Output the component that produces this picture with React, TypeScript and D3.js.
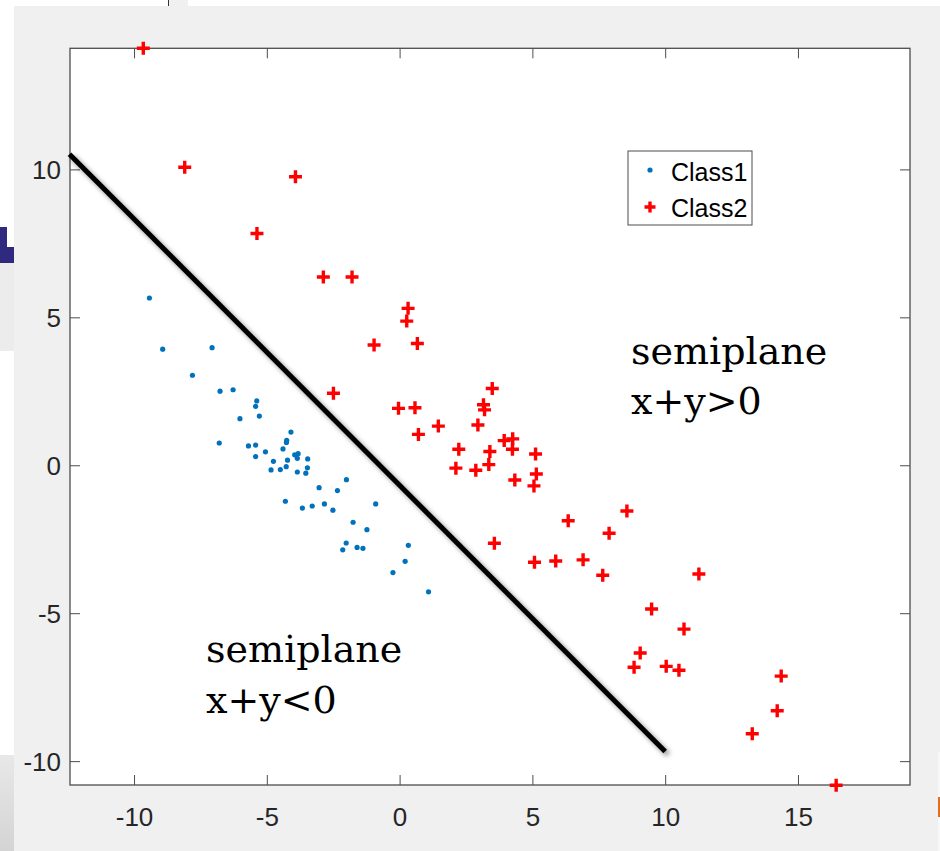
import React from 'react'
import * as d3 from 'd3'

// class 1 samples (blue dots)
const class1X = [-9.44, -8.94, -7.08, -7.82, -6.78, -6.29, -5.40, -5.44, -6.03, -5.30, -6.81, -4.11, -4.27, -4.28, -5.71, -5.44, -4.41, -5.07, -5.44, -3.97, -3.84, -3.87, -3.48, -4.24, -4.77, -4.86, -4.51, -4.29, -3.87, -3.49, -3.55, -2.02, -3.05, -2.36, -4.32, -3.68, -3.31, -2.85, -2.53, -0.92, -1.77, -1.25, -2.03, -2.16, -1.62, -1.40, 0.31, 0.19, -0.27, 1.07]
const class1Y = [5.67, 3.94, 3.99, 3.06, 2.52, 2.57, 2.19, 2.01, 1.59, 1.68, 0.77, 1.14, 0.86, 0.79, 0.67, 0.70, 0.57, 0.47, 0.31, 0.37, 0.41, 0.25, 0.23, 0.19, 0.15, -0.14, -0.13, -0.03, -0.21, -0.07, -0.25, -0.47, -0.74, -0.84, -1.20, -1.43, -1.36, -1.29, -1.50, -1.29, -1.91, -2.16, -2.61, -2.84, -2.76, -2.79, -2.69, -3.23, -3.61, -4.26]

// class 2 samples (red plus)
const class2X = [-9.67, -8.11, -3.94, -5.39, -2.89, -1.81, 0.30, 0.25, -0.98, 0.65, -2.51, 3.47, -0.06, 0.56, 3.14, 3.18, 1.44, 0.69, 2.93, 3.92, 4.24, 4.23, 5.10, 2.21, 3.38, 2.10, 2.85, 3.34, 5.13, 5.04, 4.32, 8.54, 6.33, 7.87, 3.55, 5.06, 5.86, 6.89, 7.63, 11.25, 9.47, 10.69, 9.04, 8.81, 10.02, 10.50, 14.35, 14.20, 13.26, 16.42]
const class2Y = [14.11, 10.09, 9.77, 7.85, 6.38, 6.38, 5.32, 4.89, 4.08, 4.13, 2.45, 2.61, 1.94, 1.96, 2.06, 1.89, 1.34, 1.06, 1.38, 0.85, 0.91, 0.56, 0.40, 0.56, 0.48, -0.08, -0.15, 0.04, -0.28, -0.68, -0.48, -1.53, -1.86, -2.28, -2.62, -3.26, -3.22, -3.18, -3.70, -3.66, -4.84, -5.52, -6.33, -6.81, -6.78, -6.91, -7.11, -8.28, -9.06, -10.80]

// separating line
const lineX = [-12.45, 9.98]
const lineY = [10.53, -9.66]

const xTicks = [-10, -5, 0, 5, 10, 15]
const yTicks = [-10, -5, 0, 5, 10]
const legendLabels = ['Class1', 'Class2']

const BLUE = '#0072bd'
const RED = '#ff0000'

function Plus({cx, cy, s = 6.5}: {cx: number, cy: number, s?: number}) {
    return (
        <path d={`M${cx - s},${cy}H${cx + s}M${cx},${cy - s}V${cy + s}`}
            stroke={RED} strokeWidth={3.4} fill='none' />
    )
}

export default function App() {
    const left = 70, right = 910, top = 48.3, bottom = 785
    const x = d3.scaleLinear().domain([-12.43, 19.2]).range([left, right])
    const y = d3.scaleLinear().domain([-10.79, 14.11]).range([bottom, top])
    const line = d3.line<number>().x(i => x(lineX[i])).y(i => y(lineY[i]))
    const tick = 10
    const axisColor = '#4d4d4d'

    return (
        <svg width={940} height={851} style={{position: 'absolute', left: 0, top: 0}}
            fontFamily='"Liberation Sans", Arial, sans-serif'>
            <defs>
                <filter id='shadow' x='-10%' y='-10%' width='120%' height='120%'>
                    <feGaussianBlur stdDeviation='2.5' />
                </filter>
                <linearGradient id='leftgrad' x1='0' x2='0' y1='0' y2='1'>
                    <stop offset='0' stopColor='#e8e8e8' />
                    <stop offset='1' stopColor='#d4d4d4' />
                </linearGradient>
            </defs>
            <rect width={940} height={851} fill='#ffffff' />
            {/* screenshot background bits */}
            <rect x={14} y={6} width={926} height={845} fill='#f0f0f0' />
            <rect x={168} y={0} width={20} height={6} fill='#f0f0f0' />
            <line x1={168.5} y1={0} x2={168.5} y2={6} stroke='#333' />
            <rect x={0} y={227} width={7} height={36} fill='#2f2a80' />
            <rect x={7} y={247} width={7} height={16} fill='#2f2a80' />
            <rect x={0} y={263} width={14} height={88} fill='#ececec' />
            <rect x={0} y={755} width={14} height={96} fill='url(#leftgrad)' />
            <rect x={938} y={752} width={2} height={99} fill='#f8f8f8' />
            <rect x={938} y={797} width={2} height={20} fill='#e07020' />

            {/* plot area */}
            <rect x={left} y={top} width={right - left} height={bottom - top} fill='#ffffff' />
            <rect x={left} y={top} width={right - left} height={bottom - top}
                fill='none' stroke={axisColor} strokeWidth={1.3} />
            {xTicks.map(t => (
                <g key={'xt' + t}>
                    <line x1={x(t)} x2={x(t)} y1={bottom} y2={bottom - tick} stroke={axisColor} />
                    <line x1={x(t)} x2={x(t)} y1={top} y2={top + tick} stroke={axisColor} />
                    <text x={x(t)} y={826} fontSize={26} textAnchor='middle' fill='#262626'>{t}</text>
                </g>
            ))}
            {yTicks.map(t => (
                <g key={'yt' + t}>
                    <line x1={left} x2={left + tick} y1={y(t)} y2={y(t)} stroke={axisColor} />
                    <line x1={right} x2={right - tick} y1={y(t)} y2={y(t)} stroke={axisColor} />
                    <text x={61} y={y(t) + 9} fontSize={26} textAnchor='end' fill='#262626'>{t}</text>
                </g>
            ))}

            {/* data */}
            {class1X.map((v, i) => (
                <circle key={'c1' + i} cx={x(v)} cy={y(class1Y[i])} r={2.6} fill={BLUE} />
            ))}
            {class2X.map((v, i) => (
                <Plus key={'c2' + i} cx={x(v)} cy={y(class2Y[i])} />
            ))}

            {/* separating line with its shadow */}
            <path d={line([0, 1]) || ''} transform='translate(3,3)' stroke='#000' strokeOpacity={0.45}
                strokeWidth={5} fill='none' filter='url(#shadow)' />
            <path d={line([0, 1]) || ''} stroke='#000' strokeWidth={5} fill='none' />

            {/* legend */}
            <rect x={628} y={151} width={124} height={74} fill='#ffffff' stroke={axisColor} strokeWidth={1} />
            <circle cx={650} cy={170} r={2.6} fill={BLUE} />
            <Plus cx={650} cy={207} s={5.5} />
            {legendLabels.map((l, i) => (
                <text key={l} x={671} y={181 + i * 35.5} fontSize={25} fill='#000'>{l}</text>
            ))}

            {/* annotations */}
            <g fontFamily='"DejaVu Serif", serif' fontSize={38} fill='#000'>
                <text x={631} y={364}>semiplane</text>
                <text x={631} y={414}>x+y&gt;0</text>
                <text x={206} y={662}>semiplane</text>
                <text x={206} y={713}>x+y&lt;0</text>
            </g>
        </svg>
    )
}
